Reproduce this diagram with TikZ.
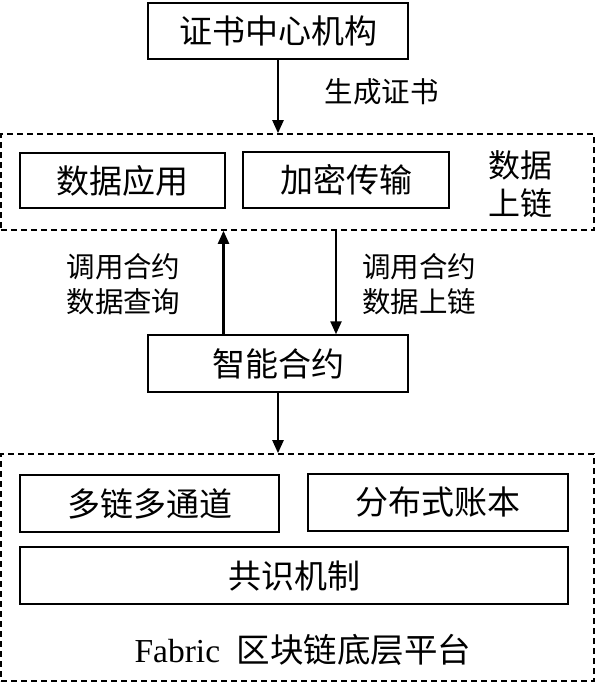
\documentclass[tikz,border=0pt]{standalone}
\usepackage{fontspec}
\setmainfont{Liberation Serif}
\newfontfamily\cjk{Noto Sans CJK SC}
\usetikzlibrary{arrows.meta}
\tikzset{
  box/.style={draw, line width=1.4pt, inner sep=0pt, font=\cjk\fontsize{33}{38}\selectfont},
  dbox/.style={draw, line width=1.6pt, dash pattern=on 6pt off 4pt, inner sep=0pt},
  lab/.style={inner sep=0pt, align=center, font=\cjk\fontsize{28.5}{35}\selectfont},
  big/.style={inner sep=0pt, align=center, font=\cjk\fontsize{32}{38}\selectfont},
  arr/.style={line width=2.3pt, -{Triangle[length=13pt,width=11pt]}}
}
\begin{document}
\begin{tikzpicture}[x=1pt,y=-1pt]
\useasboundingbox (0,0) rectangle (596,686);
% top
\node[box, minimum width=260pt, minimum height=56pt] (ca) at (278,31) {证书中心机构};
\node[lab] (gen) at (381.5,92) {生成证书};
% dashed group 1
\node[dbox, minimum width=593pt, minimum height=96pt] (d1) at (297.5,182) {};
\node[box, minimum width=205pt, minimum height=55pt] (app) at (122.5,180.5) {数据应用};
\node[box, minimum width=206pt, minimum height=56pt] (enc) at (346,180) {加密传输};
\node[big] (up) at (520,184) {数据\\上链};
% smart contract
\node[box, minimum width=260pt, minimum height=57pt] (sc) at (278,363.5) {智能合约};
\node[lab] (ll) at (123.5,284.5) {调用合约\\数据查询};
\node[lab] (rl) at (419,284.5) {调用合约\\数据上链};
% dashed group 2
\node[dbox, minimum width=593pt, minimum height=227pt] (d2) at (297.5,567.5) {};
\node[box, minimum width=259pt, minimum height=57pt] (mc) at (149.5,503.5) {多链多通道};
\node[box, minimum width=260pt, minimum height=57pt] (dl) at (438,502.5) {分布式账本};
\node[box, minimum width=548pt, minimum height=57pt] (cs) at (294,575.5) {共识机制};
\node[inner sep=0pt] (fab) at (303,650) {\fontsize{33.5}{38}\selectfont Fabric\hspace{0.5em}{\cjk 区块链底层平台}};
% arrows
\draw[arr] (ca.south) -- (ca.south |- d1.north);
\draw[arr] ([xshift=-54.5pt]sc.north) -- ([xshift=-54.5pt]sc.north |- d1.south);
\draw[arr] ([xshift=58pt]sc.north |- d1.south) -- ([xshift=58pt]sc.north);
\draw[arr] (sc.south) -- (sc.south |- d2.north);
\end{tikzpicture}
\end{document}
